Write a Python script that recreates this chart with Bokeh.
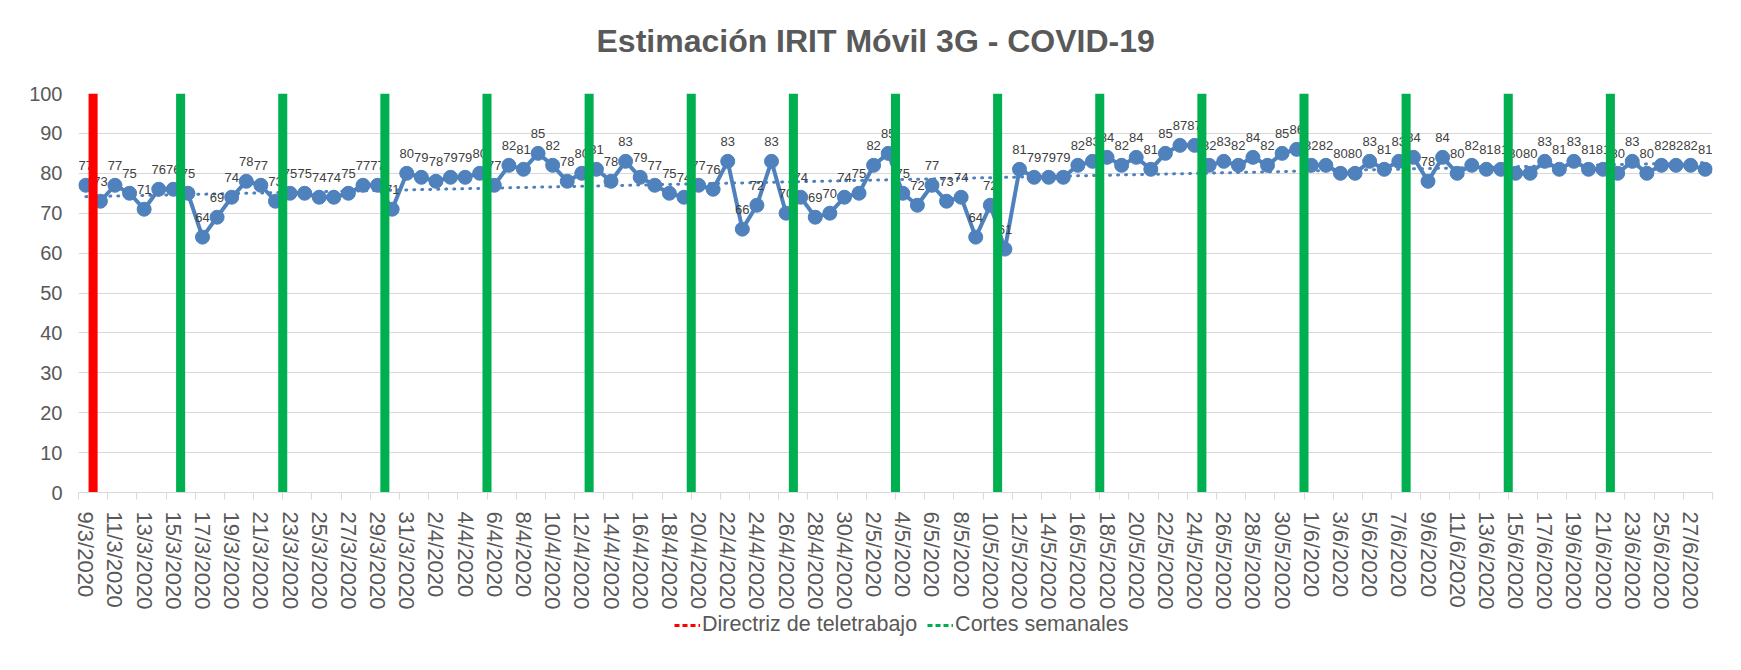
import numpy as np
import pandas as pd
from bokeh.plotting import figure
from bokeh.layouts import column
from bokeh.models import ColumnDataSource, FixedTicker, Legend, LegendItem, Range1d
from bokeh.core.properties import value
from bokeh.embed import file_html
from bokeh.resources import INLINE

# ---------------- data ----------------
dates = [f"{d.day}/{d.month}/{d.year}" for d in pd.date_range("2020-03-09", "2020-06-28")]

irit_march = [77, 73, 77, 75, 71, 76, 76, 75, 64, 69, 74, 78, 77, 73, 75, 75, 74, 74, 75, 77,
              77, 71, 80]
irit_april = [79, 78, 79, 79, 80, 77, 82, 81, 85, 82, 78, 80, 81, 78, 83, 79, 77, 75, 74, 77,
              76, 83, 66, 72, 83, 70, 74, 69, 70, 74]
irit_may = [75, 82, 85, 75, 72, 77, 73, 74, 64, 72, 61, 81, 79, 79, 79, 82, 83, 84, 82, 84,
            81, 85, 87, 87, 82, 83, 82, 84, 82, 85, 86]
irit_june = [82, 82, 80, 80, 83, 81, 83, 84, 78, 84, 80, 82, 81, 81, 80, 80, 83, 81, 83, 81,
             81, 80, 83, 80, 82, 82, 82, 81]
irit_values = irit_march + irit_april + irit_may + irit_june

telework_dates = ["10/3/2020"]
weekly_cut_dates = ["16/3/2020", "23/3/2020", "30/3/2020", "6/4/2020", "13/4/2020",
                    "20/4/2020", "27/4/2020", "4/5/2020", "11/5/2020", "18/5/2020",
                    "25/5/2020", "1/6/2020", "8/6/2020", "15/6/2020", "22/6/2020"]
cut_value = 100
y_ticks = [0, 10, 20, 30, 40, 50, 60, 70, 80, 90, 100]

title_text = "Estimación IRIT Móvil 3G - COVID-19"
legend_red = "Directriz de teletrabajo"
legend_green = "Cortes semanales"

# ---------------- style ----------------
FONT = "Liberation Sans"
GRAY = "#595959"
BLUE = "#4F81BD"
W = 1725
HEAD_H, MAIN_H, LEG_H = 81, 531, 42
LEFT, RIGHT = 78, 13


def strip(h, yr):
    fig = figure(width=W, height=h, output_backend="svg", toolbar_location=None,
                 x_range=Range1d(0, 1), y_range=yr, min_border=0,
                 min_border_left=LEFT, min_border_right=RIGHT,
                 x_axis_location=None, y_axis_location=None)
    fig.outline_line_color = None
    fig.xgrid.visible = False
    fig.ygrid.visible = False
    fig.border_fill_color = "white"
    fig.background_fill_color = "white"
    return fig


# ---------------- title strip ----------------
head = strip(HEAD_H, Range1d(0, 1))
head.title.text = title_text
head.title.align = "left"
head.title.offset = 518
head.title.text_font = FONT
head.title.text_font_size = "32px"
head.title.text_font_style = "bold"
head.title.text_color = GRAY
head.title.standoff = 40

# ---------------- main chart ----------------
n = len(dates)
idx = np.arange(n)
src = ColumnDataSource(dict(x=idx, y=irit_values, label=[str(v) for v in irit_values]))

slope, intercept = np.polyfit(idx, np.array(irit_values, dtype=float), 1)
trend_src = ColumnDataSource(dict(x=idx, y=slope * idx + intercept))

p = figure(width=W, height=MAIN_H, output_backend="svg", toolbar_location=None,
           x_range=Range1d(-0.5, n - 0.5), y_range=Range1d(0, 100),
           min_border_left=LEFT, min_border_right=RIGHT, min_border_top=12, min_border_bottom=118)
p.outline_line_color = None
p.background_fill_color = "white"
p.border_fill_color = "white"

p.line("x", "y", source=trend_src, line_color=BLUE, line_width=3, line_dash="1 7", line_cap="round")
p.line("x", "y", source=src, line_color=BLUE, line_width=4, line_join="round")
p.scatter("x", "y", source=src, size=14, fill_color=BLUE, line_color=BLUE)
p.text("x", "y", text="label", source=src, text_font=value(FONT), text_font_size="13px",
       text_color="#404040", text_align="center", text_baseline="alphabetic", y_offset=-20)

red_x = [dates.index(d) - 0.5 for d in telework_dates]
green_x = [dates.index(d) - 0.5 for d in weekly_cut_dates]
p.vbar(x=red_x, top=[cut_value] * len(red_x), bottom=0, width=0.62, fill_color="#FF0000", line_color=None)
p.vbar(x=green_x, top=[cut_value] * len(green_x), bottom=0, width=0.62, fill_color="#00B050", line_color=None)

xa = p.xaxis[0]
xa.ticker = FixedTicker(ticks=list(range(0, n, 2)),
                        minor_ticks=[i - 0.5 for i in range(0, n + 1, 2)])
xa.major_label_overrides = {i: dates[i] for i in range(0, n, 2)}
xa.major_label_orientation = "vertical"
xa.major_tick_out = 0
xa.major_tick_in = 0
xa.minor_tick_out = 7
xa.minor_tick_in = 0
xa.minor_tick_line_color = "#D9D9D9"
xa.axis_line_color = "#D9D9D9"
xa.major_label_standoff = 12
xa.major_label_text_font = FONT
xa.major_label_text_font_size = "22px"
xa.major_label_text_color = GRAY

ya = p.yaxis[0]
ya.ticker = FixedTicker(ticks=y_ticks)
ya.axis_line_color = None
ya.major_tick_out = 0
ya.major_tick_in = 0
ya.minor_tick_line_color = None
ya.major_label_standoff = 16
ya.major_label_text_font = FONT
ya.major_label_text_font_size = "20px"
ya.major_label_text_color = GRAY

p.xgrid.visible = False
p.ygrid.ticker = FixedTicker(ticks=y_ticks)
p.ygrid.grid_line_color = "#D9D9D9"
p.ygrid.grid_line_width = 1

# ---------------- legend strip ----------------
leg = strip(LEG_H, Range1d(0, LEG_H))
leg_src = ColumnDataSource(dict(x=[-10, -5], y=[-10, -10]))
r_red = leg.line("x", "y", source=leg_src, line_color="#FF0000", line_width=3, line_dash="5 3")
r_green = leg.line("x", "y", source=leg_src, line_color="#00B050", line_width=3, line_dash="5 3")
legend = Legend(items=[LegendItem(label=legend_red, renderers=[r_red]),
                       LegendItem(label=legend_green, renderers=[r_green])],
                orientation="horizontal", location=(674 - LEFT, 17),
                label_text_font=FONT, label_text_font_size="21.5px", label_text_color=GRAY,
                glyph_width=26, glyph_height=20, label_standoff=2, spacing=10,
                padding=0, margin=0, border_line_color=None, background_fill_alpha=0)
leg.add_layout(legend, "center")

layout = column(head, p, leg, spacing=0)
open("out.html", "w").write(file_html(layout, INLINE))
